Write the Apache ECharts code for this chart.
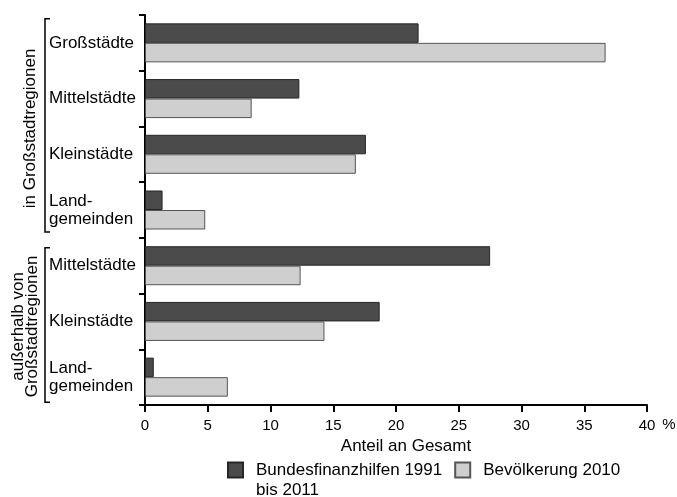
<!DOCTYPE html>
<html><head><meta charset="utf-8">
<script src="https://cdn.jsdelivr.net/npm/echarts@6/dist/echarts.min.js"></script>
<style>html,body{margin:0;padding:0;background:#fff}#c{width:677px;height:497px}</style>
</head><body><div id="c"></div>
<script>
// ---- data ----
const categories = ['Großstädte', 'Mittelstädte', 'Kleinstädte', 'Land-\ngemeinden', 'Mittelstädte', 'Kleinstädte', 'Land-\ngemeinden'];
const seriesNames = ['Bundesfinanzhilfen 1991 bis 2011', 'Bevölkerung 2010'];
const fundingShare = [21.8, 12.3, 17.6, 1.4, 27.5, 18.7, 0.7];
const populationShare = [36.7, 8.5, 16.8, 4.8, 12.4, 14.3, 6.6];
const xTicks = { min: 0, max: 40, interval: 5 };
const groupLabels = ['in Großstadtregionen', 'außerhalb von\nGroßstadtregionen'];
const groupRanges = [[0, 3], [4, 6]];
const axisTitle = 'Anteil an Gesamt';
const unitLabel = '%';

const FONT = '"Liberation Sans", Arial, Helvetica, sans-serif';
const chart = echarts.init(document.getElementById('c'), null, { renderer: 'canvas' });

chart.setOption({
  animation: false,
  backgroundColor: '#fff',
  textStyle: { fontFamily: FONT, color: '#000' },
  grid: { left: 145, right: 30, top: 15, bottom: 92, containLabel: false },
  xAxis: {
    type: 'value', min: xTicks.min, max: xTicks.max, interval: xTicks.interval,
    axisLine: { show: true, lineStyle: { color: '#000', width: 2 } },
    axisTick: { show: true, length: 7, lineStyle: { color: '#000', width: 2 } },
    splitLine: { show: false },
    axisLabel: { color: '#000', fontSize: 15, fontFamily: FONT, margin: 13 },
    name: axisTitle, nameLocation: 'middle', nameGap: 28,
    nameTextStyle: { fontSize: 17, color: '#000', fontFamily: FONT, padding: [0, 0, 0, 20] }
  },
  yAxis: {
    type: 'category', inverse: true, data: categories,
    axisLine: { show: true, lineStyle: { color: '#000', width: 2 } },
    axisTick: { show: true, length: 6, lineStyle: { color: '#000', width: 2 } },
    axisLabel: { align: 'left', margin: 96, fontSize: 17, lineHeight: 18, color: '#000', fontFamily: FONT }
  },
  legend: {
    left: 222, top: 435, orient: 'horizontal', itemWidth: 15, itemHeight: 15, itemGap: 12,
    icon: 'rect', selectedMode: false,
    textStyle: { fontSize: 17, lineHeight: 20, color: '#000', fontFamily: FONT, padding: [0, 0, 0, 8] },
    formatter: function (name) { return name === seriesNames[0] ? ' \nBundesfinanzhilfen 1991\nbis 2011' : name; },
    data: seriesNames
  },
  series: [
    { name: seriesNames[0], type: 'bar', data: fundingShare, barWidth: 19.5, barGap: '0%',
      itemStyle: { color: '#4b4b4b', borderColor: '#262626', borderWidth: 1 } },
    { name: seriesNames[1], type: 'bar', data: populationShare, barWidth: 19.5, barGap: '0%',
      itemStyle: { color: '#cfcfcf', borderColor: '#555', borderWidth: 1 } }
  ]
});

// ---- group brackets & labels ----
function yPix(i) { return chart.convertToPixel({ yAxisIndex: 0 }, i); }
const graphics = [];
const bracketX = 45;
const offs = [[-24, 22], [-18, 25]];
groupRanges.forEach(function (r, g) {
  const top = yPix(r[0]) + offs[g][0];
  const bot = yPix(r[1]) + offs[g][1];
  graphics.push({ type: 'polyline', silent: true,
    shape: { points: [[bracketX + 5, top], [bracketX, top], [bracketX, bot], [bracketX + 5, bot]] },
    style: { stroke: '#000', lineWidth: 1.5, fill: null } });
  const cy = g === 0 ? (yPix(r[0]) + yPix(r[1])) / 2 + 2 : (yPix(r[0]) + yPix(r[1])) / 2 + 5;
  graphics.push({ type: 'text', silent: true, x: g === 0 ? 30 : 25, y: cy, rotation: Math.PI / 2,
    style: { text: groupLabels[g], fontSize: 17, lineHeight: 14, fontFamily: FONT, fill: '#000',
      align: 'center', verticalAlign: 'middle' } });
});
const xEnd = chart.convertToPixel({ xAxisIndex: 0 }, xTicks.max);
graphics.push({ type: 'text', silent: true, x: xEnd + 22, y: 425,
  style: { text: unitLabel, fontSize: 15, fontFamily: FONT, fill: '#000', align: 'center', verticalAlign: 'middle' } });
chart.setOption({ graphic: graphics });
</script>
</body></html>
